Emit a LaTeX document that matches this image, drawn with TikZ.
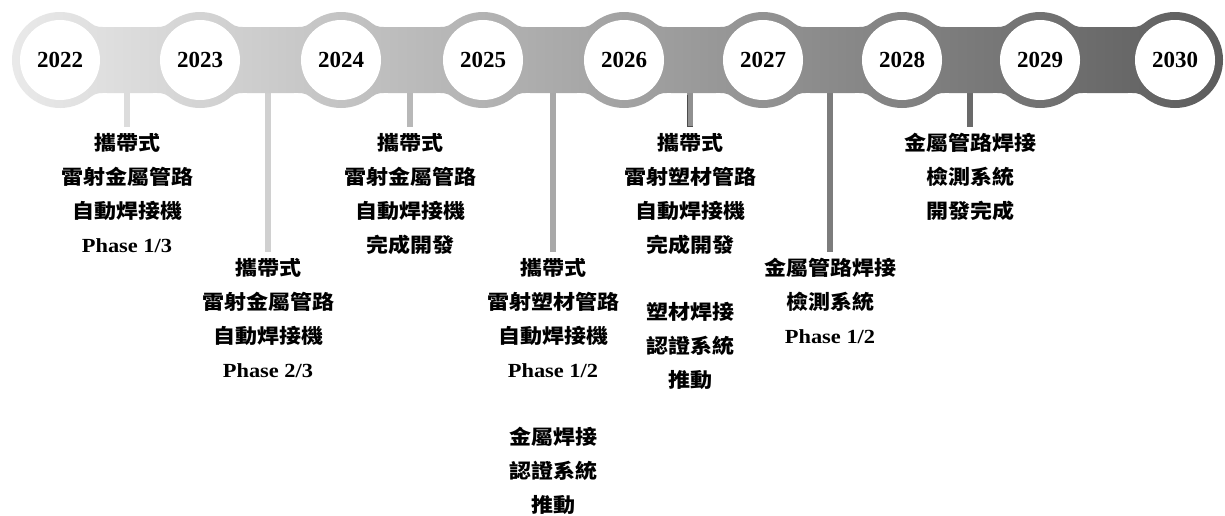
\documentclass[tikz,border=0pt]{standalone}
\usepackage{fontspec}
\setmainfont{Liberation Serif}
\newfontfamily\cjk{Noto Sans CJK TC}[FakeStretch=1.1]
\newfontfamily\phasefont{Liberation Serif}[FakeStretch=1.12]
\definecolor{gA}{HTML}{EAEAEA}
\definecolor{gB}{HTML}{ABABAB}
\definecolor{gC}{HTML}{5C5C5C}
\definecolor{s1c}{HTML}{DCDCDC}
\definecolor{s2c}{HTML}{D0D0D0}
\definecolor{s3c}{HTML}{B8B8B8}
\definecolor{s4c}{HTML}{A8A8A8}
\definecolor{s5c}{HTML}{909090}
\definecolor{s6c}{HTML}{7C7C7C}
\definecolor{s7c}{HTML}{6A6A6A}
\tikzset{
  yearc/.style={circle, fill=white, minimum size=80pt, inner sep=0pt,
    font=\fontsize{23}{23}\selectfont\bfseries},
  blk/.style={align=center, inner sep=0pt, anchor=north,
    font=\fontsize{20}{34}\selectfont\bfseries\cjk},
  stemline/.style={line width=5.5pt, shorten >=6pt}
}
\newcommand\ph[1]{{\phasefont #1}}
\begin{document}
\begin{tikzpicture}[x=1pt,y=1pt]
\useasboundingbox (0,0) rectangle (1225,-515);
\fill[white] (0,0) rectangle (1225,-515);
% circle centres
\coordinate (p0) at (60,-60);
\coordinate (p1) at (200,-60);
\coordinate (p2) at (341,-60);
\coordinate (p3) at (483,-60);
\coordinate (p4) at (624,-60);
\coordinate (p5) at (763,-60);
\coordinate (p6) at (902,-60);
\coordinate (p7) at (1040,-60);
\coordinate (p8) at (1175,-60);
% text blocks
\node[blk] (t1) at (127,-133) {攜帶式\\雷射金屬管路\\自動焊接機\\\ph{Phase 1/3}};
\node[blk] (t2) at (268,-258) {攜帶式\\雷射金屬管路\\自動焊接機\\\ph{Phase 2/3}};
\node[blk] (t3) at (410,-133) {攜帶式\\雷射金屬管路\\自動焊接機\\完成開發};
\node[blk] (t4) at (553,-258) {攜帶式\\雷射塑材管路\\自動焊接機\\\ph{Phase 1/2}};
\node[blk] (t4b) at (553,-427) {金屬焊接\\認證系統\\推動};
\node[blk] (t5) at (690,-133) {攜帶式\\雷射塑材管路\\自動焊接機\\完成開發};
\node[blk] (t5b) at (690,-302) {塑材焊接\\認證系統\\推動};
\node[blk] (t6) at (830,-258) {金屬管路焊接\\檢測系統\\\ph{Phase 1/2}};
\node[blk] (t7) at (970,-133) {金屬管路焊接\\檢測系統\\開發完成};
% stems
\coordinate (c1) at (127,-85);
\coordinate (c2) at (268,-85);
\coordinate (c3) at (410,-85);
\coordinate (c4) at (553,-85);
\coordinate (c5) at (690,-85);
\coordinate (c6) at (830,-85);
\coordinate (c7) at (970,-85);
\draw[stemline, s1c] (c1) -- (t1.north);
\draw[stemline, s2c] (c2) -- (t2.north);
\draw[stemline, s3c] (c3) -- (t3.north);
\draw[stemline, s4c] (c4) -- (t4.north);
\draw[stemline, s5c] (c5) -- (t5.north);
\draw[stemline, s6c] (c6) -- (t6.north);
\draw[stemline, s7c] (c7) -- (t7.north);
\draw[line width=0.8pt, black!70] (687.5,-95) -- (687.5,-126) -- (693,-126);
% band
\shade[left color=gA, middle color=gB, right color=gC]
 ([shift={(-50:48)}]p0) arc[start angle=-50, end angle=-310, radius=48]
 to[out=-40,in=180] ([shift={(48,33)}]p0) -- ([shift={(-48,33)}]p1)
 to[out=0,in=220] ([shift={(130:48)}]p1) arc[start angle=130,end angle=50,radius=48]
 to[out=-40,in=180] ([shift={(48,33)}]p1) -- ([shift={(-48,33)}]p2)
 to[out=0,in=220] ([shift={(130:48)}]p2) arc[start angle=130,end angle=50,radius=48]
 to[out=-40,in=180] ([shift={(48,33)}]p2) -- ([shift={(-48,33)}]p3)
 to[out=0,in=220] ([shift={(130:48)}]p3) arc[start angle=130,end angle=50,radius=48]
 to[out=-40,in=180] ([shift={(48,33)}]p3) -- ([shift={(-48,33)}]p4)
 to[out=0,in=220] ([shift={(130:48)}]p4) arc[start angle=130,end angle=50,radius=48]
 to[out=-40,in=180] ([shift={(48,33)}]p4) -- ([shift={(-48,33)}]p5)
 to[out=0,in=220] ([shift={(130:48)}]p5) arc[start angle=130,end angle=50,radius=48]
 to[out=-40,in=180] ([shift={(48,33)}]p5) -- ([shift={(-48,33)}]p6)
 to[out=0,in=220] ([shift={(130:48)}]p6) arc[start angle=130,end angle=50,radius=48]
 to[out=-40,in=180] ([shift={(48,33)}]p6) -- ([shift={(-48,33)}]p7)
 to[out=0,in=220] ([shift={(130:48)}]p7) arc[start angle=130,end angle=50,radius=48]
 to[out=-40,in=180] ([shift={(48,33)}]p7) -- ([shift={(-48,33)}]p8)
 to[out=0,in=220] ([shift={(130:48)}]p8) arc[start angle=130,end angle=-130,radius=48]
 to[out=140,in=0] ([shift={(-48,-33)}]p8) -- ([shift={(48,-33)}]p7)
 to[out=180,in=40] ([shift={(-50:48)}]p7) arc[start angle=-50,end angle=-130,radius=48]
 to[out=140,in=0] ([shift={(-48,-33)}]p7) -- ([shift={(48,-33)}]p6)
 to[out=180,in=40] ([shift={(-50:48)}]p6) arc[start angle=-50,end angle=-130,radius=48]
 to[out=140,in=0] ([shift={(-48,-33)}]p6) -- ([shift={(48,-33)}]p5)
 to[out=180,in=40] ([shift={(-50:48)}]p5) arc[start angle=-50,end angle=-130,radius=48]
 to[out=140,in=0] ([shift={(-48,-33)}]p5) -- ([shift={(48,-33)}]p4)
 to[out=180,in=40] ([shift={(-50:48)}]p4) arc[start angle=-50,end angle=-130,radius=48]
 to[out=140,in=0] ([shift={(-48,-33)}]p4) -- ([shift={(48,-33)}]p3)
 to[out=180,in=40] ([shift={(-50:48)}]p3) arc[start angle=-50,end angle=-130,radius=48]
 to[out=140,in=0] ([shift={(-48,-33)}]p3) -- ([shift={(48,-33)}]p2)
 to[out=180,in=40] ([shift={(-50:48)}]p2) arc[start angle=-50,end angle=-130,radius=48]
 to[out=140,in=0] ([shift={(-48,-33)}]p2) -- ([shift={(48,-33)}]p1)
 to[out=180,in=40] ([shift={(-50:48)}]p1) arc[start angle=-50,end angle=-130,radius=48]
 to[out=140,in=0] ([shift={(-48,-33)}]p1) -- ([shift={(48,-33)}]p0)
 to[out=180,in=40] ([shift={(-50:48)}]p0) -- cycle;
% year circles
\node[yearc] (y22) at (p0) {2022};
\node[yearc] (y23) at (p1) {2023};
\node[yearc] (y24) at (p2) {2024};
\node[yearc] (y25) at (p3) {2025};
\node[yearc] (y26) at (p4) {2026};
\node[yearc] (y27) at (p5) {2027};
\node[yearc] (y28) at (p6) {2028};
\node[yearc] (y29) at (p7) {2029};
\node[yearc] (y30) at (p8) {2030};
\end{tikzpicture}
\end{document}
